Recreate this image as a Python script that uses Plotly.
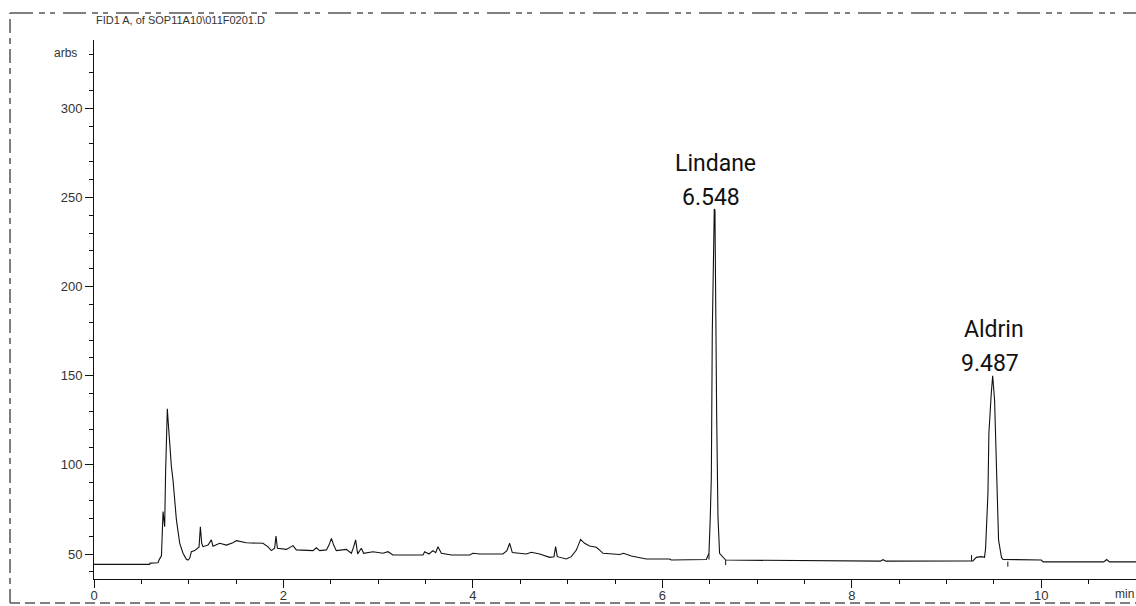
import numpy as np
import plotly.graph_objects as go

# ---------------- data ----------------
time_min = [
    0.000, 0.588, 0.592, 0.676, 0.690, 0.712, 0.729, 0.737, 0.746, 0.756, 0.765, 0.774,
    0.782, 0.792, 0.817, 0.834, 0.870, 0.905, 0.940, 0.975, 0.992, 1.010, 1.028, 1.063,
    1.088, 1.109, 1.123, 1.137, 1.151, 1.204, 1.239, 1.256, 1.327, 1.398, 1.467, 1.503,
    1.609, 1.784, 1.837, 1.872, 1.907, 1.921, 1.936, 2.031, 2.101, 2.136, 2.312, 2.347,
    2.382, 2.453, 2.481, 2.506, 2.530, 2.558, 2.664, 2.717, 2.741, 2.762, 2.783, 2.822,
    2.847, 2.945, 3.051, 3.103, 3.156, 3.297, 3.473, 3.491, 3.536, 3.578, 3.607, 3.631,
    3.667, 3.773, 3.966, 4.000, 4.071, 4.317, 4.359, 4.388, 4.416, 4.564, 4.617, 4.705,
    4.810, 4.856, 4.873, 4.891, 4.986, 5.039, 5.092, 5.137, 5.179, 5.232, 5.303, 5.338,
    5.373, 5.549, 5.591, 5.672, 5.795, 5.831, 6.077, 6.094, 6.464, 6.492, 6.506, 6.517,
    6.527, 6.541, 6.548, 6.555, 6.562, 6.573, 6.587, 6.604, 6.668, 7.500, 8.300, 8.330,
    8.360, 9.200, 9.278, 9.314, 9.367, 9.401, 9.412, 9.437, 9.447, 9.472, 9.487, 9.507,
    9.525, 9.535, 9.549, 9.580, 9.595, 10.000, 10.020, 10.660, 10.690, 10.720, 11.000,
]
signal_pa = [
    44.2, 44.2, 44.9, 45.1, 47.0, 49.0, 73.8, 70.0, 65.3, 96.0, 118.0, 131.5,
    125.0, 115.8, 99.0, 91.5, 69.1, 56.0, 50.4, 47.0, 46.6, 47.6, 51.3, 51.9,
    53.2, 54.0, 65.3, 56.0, 54.1, 55.0, 57.9, 54.4, 56.0, 55.0, 56.3, 57.5,
    56.3, 56.0, 54.0, 51.9, 53.2, 60.1, 53.2, 52.6, 54.7, 52.3, 51.9, 53.5,
    51.9, 52.3, 55.0, 58.8, 55.0, 51.9, 52.6, 50.4, 54.0, 57.9, 50.1, 53.2,
    50.4, 51.3, 50.4, 51.3, 49.4, 49.4, 49.4, 51.3, 50.0, 51.9, 50.8, 54.1,
    50.4, 49.4, 49.4, 50.4, 50.0, 50.0, 51.9, 56.0, 50.8, 50.0, 51.0, 50.0,
    48.1, 48.5, 54.1, 48.5, 47.2, 48.5, 52.2, 58.2, 56.0, 54.5, 53.8, 52.2,
    50.4, 49.7, 50.4, 48.9, 47.6, 47.2, 47.2, 46.6, 46.9, 50.4, 70.9, 93.4,
    173.8, 243.0, 243.5, 243.0, 175.6, 128.9, 70.9, 50.4, 46.6, 46.2, 46.0, 46.8,
    46.0, 46.1, 46.1, 48.1, 48.5, 48.1, 53.0, 84.0, 117.7, 140.0, 150.0, 136.4,
    99.0, 80.3, 57.9, 48.0, 47.0, 46.6, 45.6, 45.6, 46.9, 45.6, 45.6,
]

peak_names = ["Lindane", "Aldrin"]
peak_rt = [6.548, 9.487]
peak_rt_labels = ["6.548", "9.487"]

# integration event marks (time, from, to)
event_t = [6.492, 6.668, 9.264, 9.647]
event_lo = [46.9, 43.8, 46.1, 42.9]
event_hi = [50.0, 46.6, 49.4, 45.7]

x_ticks = [0, 2, 4, 6, 8, 10]
y_ticks = [50, 100, 150, 200, 250, 300]
x_range = [0, 11.0]
y_range = [35.98, 338.3]

title_text = "FID1 A, of SOP11A10\\011F0201.D"
y_unit = "arbs"
x_unit = "min"

# ---------------- figure ----------------
fig = go.Figure()
fig.add_trace(go.Scatter(
    x=time_min, y=signal_pa, mode="lines",
    line=dict(color="#111111", width=1.1), hoverinfo="x+y", showlegend=False,
))

ex, ey = [], []
for t, lo, hi in zip(event_t, event_lo, event_hi):
    ex += [t, t, None]
    ey += [lo, hi, None]
fig.add_trace(go.Scatter(x=ex, y=ey, mode="lines",
                         line=dict(color="#111111", width=1), showlegend=False,
                         hoverinfo="skip"))

label_font = dict(family="Roboto, Liberation Sans Narrow, sans-serif",
                  size=23, color="#111111")
apex = np.interp(peak_rt, time_min, signal_pa)
for name, rt, rtl, ay in zip(peak_names, peak_rt, peak_rt_labels, apex):
    fig.add_annotation(x=rt, y=ay, text=rtl, showarrow=False, xref="x", yref="y",
                       xanchor="center", yanchor="middle", xshift=-3, yshift=12,
                       font=label_font)
    fig.add_annotation(x=rt, y=ay, text=name, showarrow=False, xref="x", yref="y",
                       xanchor="center", yanchor="middle", xshift=1, yshift=46,
                       font=label_font)

small_font = dict(family="Liberation Sans, Arial, sans-serif", size=12, color="#333333")
fig.add_annotation(x=-0.0144, y=0.976, xref="paper", yref="paper", text=y_unit,
                   showarrow=False, xanchor="right", yanchor="middle", font=small_font)
fig.add_annotation(x=0.9885, y=-0.027, xref="paper", yref="paper", text=x_unit,
                   showarrow=False, xanchor="center", yanchor="middle", font=small_font)
fig.add_annotation(x=0.0, y=1.037, xref="paper", yref="paper", text=title_text,
                   showarrow=False, xanchor="left", yanchor="middle",
                   font=dict(family="Liberation Sans, Arial, sans-serif", size=11, color="#333333"))

# dashed outer frame
frame_col = "#555555"
fig.add_shape(type="line", xref="paper", yref="paper", x0=-0.0806, x1=1.02, y0=1.0501, y1=1.0501,
              line=dict(color=frame_col, width=1.5, dash="23px,6px,6px,5px,5px,8px"))
fig.add_shape(type="line", xref="paper", yref="paper", x0=-0.0806, x1=1.02, y0=-0.0445, y1=-0.0445,
              line=dict(color=frame_col, width=1.5, dash="10px,5px"))
fig.add_shape(type="line", xref="paper", yref="paper", x0=-0.0806, x1=-0.0806, y0=-0.0445, y1=1.0501,
              line=dict(color=frame_col, width=1.5, dash="14px,5px,6px,5px"))

axis_common = dict(
    showline=True, linecolor="#111111", linewidth=1, mirror=False,
    ticks="outside", ticklen=8, tickwidth=1, tickcolor="#111111",
    showgrid=False, zeroline=False,
    tickfont=dict(family="Liberation Sans, Arial, sans-serif", size=13, color="#333333"),
)
fig.update_xaxes(range=x_range, tickmode="array", tickvals=x_ticks,
                 ticktext=[str(v) for v in x_ticks], ticklabelstandoff=-4,
                 minor=dict(ticks="outside", ticklen=4, tickwidth=1, tickcolor="#111111",
                            dtick=0.5, tick0=0, showgrid=False),
                 **axis_common)
fig.update_yaxes(range=y_range, tickmode="array", tickvals=y_ticks,
                 ticktext=[str(v) for v in y_ticks],
                 minor=dict(ticks="outside", ticklen=4, tickwidth=1, tickcolor="#111111",
                            dtick=10, tick0=0, showgrid=False),
                 **axis_common)

fig.update_layout(
    width=1136, height=606,
    margin=dict(l=94, r=0, t=40, b=27, pad=0),
    paper_bgcolor="white", plot_bgcolor="white",
    showlegend=False,
)

fig.write_html("out.html", config={"displayModeBar": False},
               post_script="document.body.style.margin='0';document.body.style.overflow='hidden';")
